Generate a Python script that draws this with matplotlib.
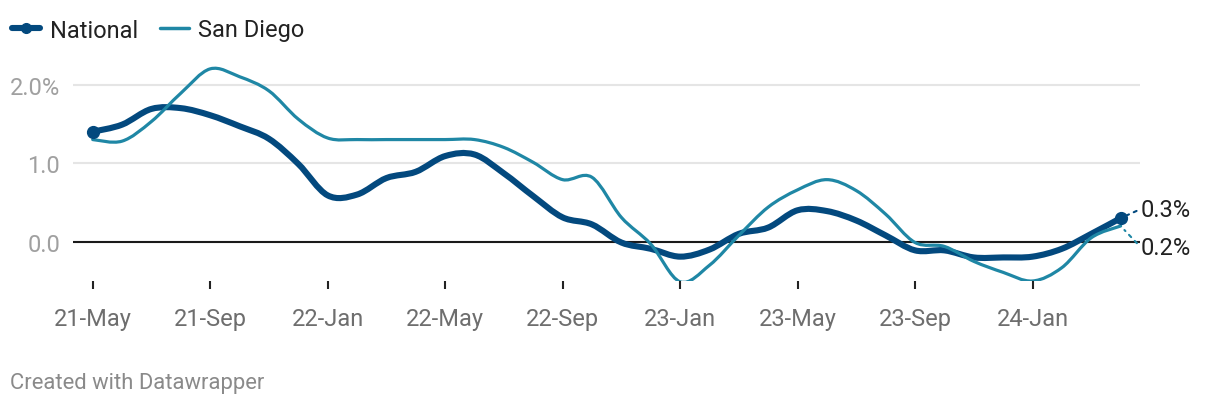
import matplotlib
matplotlib.use("Agg")
import matplotlib.pyplot as plt
import numpy as np
from matplotlib.path import Path
from matplotlib.patches import PathPatch
from matplotlib.lines import Line2D

plt.rcParams["font.family"] = ["Roboto", "DejaVu Sans"]

# monthly values, 2021-05 .. 2024-04
months = np.arange(36)
national = [1.40, 1.49, 1.69, 1.70, 1.61, 1.47, 1.31, 0.99, 0.59, 0.60, 0.81, 0.89,
            1.09, 1.11, 0.87, 0.58, 0.31, 0.22, -0.01, -0.09, -0.19, -0.10, 0.10, 0.18,
            0.40, 0.39, 0.27, 0.08, -0.11, -0.11, -0.20, -0.20, -0.19, -0.09, 0.10, 0.30]
san_diego = [1.30, 1.28, 1.53, 1.89, 2.20, 2.10, 1.92, 1.56, 1.32, 1.30, 1.30, 1.30,
             1.30, 1.30, 1.20, 1.01, 0.79, 0.82, 0.31, -0.03, -0.51, -0.30, 0.08, 0.44,
             0.66, 0.79, 0.65, 0.35, -0.01, -0.06, -0.25, -0.39, -0.50, -0.33, 0.05, 0.20]
tick_idx = [0, 4, 8, 12, 16, 20, 24, 28, 32]
tick_labels = ["21-May", "21-Sep", "22-Jan", "22-May", "22-Sep",
               "23-Jan", "23-May", "23-Sep", "24-Jan"]
end_labels = ["0.3%", "0.2%"]

c_nat = "#03497e"
c_sd = "#1f87a5"


def smooth_path(x, y):
    # catmull-rom through the points, written as cubic bezier segments
    p = np.column_stack([x, y]).astype(float)
    p = np.vstack([p[0], p, p[-1]])
    verts = [tuple(p[1])]
    codes = [Path.MOVETO]
    for i in range(1, len(p) - 2):
        c1 = p[i] + (p[i + 1] - p[i - 1]) / 6
        c2 = p[i + 1] - (p[i + 2] - p[i]) / 6
        verts += [tuple(c1), tuple(c2), tuple(p[i + 1])]
        codes += [Path.CURVE4] * 3
    return Path(verts, codes)


fig = plt.figure(figsize=(12.2, 4.1), dpi=100)
ax = fig.add_axes([72.7 / 1220, 1 - 282 / 410, (1140 - 72.7) / 1220, 220 / 410])
ax.set_xlim(-0.681, 35.66)
ax.set_ylim(-0.5, 2.3)

for s in ax.spines.values():
    s.set_visible(False)

ax.set_yticks([0, 1, 2])
ax.set_yticklabels(["0.0", "1.0", "2.0%"])
ax.yaxis.grid(True, color="#e5e5e5", lw=1.5)
ax.set_axisbelow(True)
ax.axhline(0, color="#1a1a1a", lw=1.5, zorder=2)
ax.tick_params(axis="y", length=0, pad=9, labelsize=17, labelcolor="#a0a0a0")

ax.set_xticks(tick_idx)
ax.set_xticklabels(tick_labels)
ax.tick_params(axis="x", length=6, width=1.5, color="#222222", pad=13,
               labelsize=17, labelcolor="#6e6e6e")

ax.add_patch(PathPatch(smooth_path(months, national), fc="none", ec=c_nat,
                       lw=4.4, capstyle="round", joinstyle="round", zorder=3))
ax.add_patch(PathPatch(smooth_path(months, san_diego), fc="none", ec=c_sd,
                       lw=2.3, capstyle="round", joinstyle="round", zorder=4))
ax.plot([months[0], months[-1]], [national[0], national[-1]], "o", color=c_nat,
        ms=8.5, zorder=5, clip_on=False)

ax.annotate(end_labels[0], xy=(months[-1], national[-1]), xytext=(14.4, 6.5),
            textcoords="offset points", ha="left", va="center", fontsize=17,
            color="#222222", annotation_clip=False,
            arrowprops=dict(arrowstyle="-", ls=(0, (1.5, 2.5)), lw=1.5, color=c_nat,
                            shrinkA=1, shrinkB=5, relpos=(0, 0.5)))
ax.annotate(end_labels[1], xy=(months[-1], san_diego[-1]), xytext=(14.4, -15.2),
            textcoords="offset points", ha="left", va="center", fontsize=17,
            color="#222222", annotation_clip=False,
            arrowprops=dict(arrowstyle="-", ls=(0, (1.5, 2.5)), lw=1.5, color=c_sd,
                            shrinkA=1, shrinkB=4, relpos=(0, 0.5)))

handles = [Line2D([], [], color=c_nat, lw=4.4, marker="o", ms=7, solid_capstyle="round"),
           Line2D([], [], color=c_sd, lw=2.5, solid_capstyle="round")]
fig.legend(handles, ["National", "San Diego"], loc="center left",
           bbox_to_anchor=(12 / 1220, 1 - 31 / 410), frameon=False, fontsize=17,
           labelcolor="#222222", handlelength=1.2, handletextpad=0.4,
           columnspacing=0.95, ncol=2, borderpad=0, borderaxespad=0, numpoints=1)

fig.text(10 / 1220, 1 - 384 / 410, "Created with Datawrapper", fontsize=15.8,
         color="#8a8a8a", ha="left", va="center")

fig.savefig("out.png", dpi=100)
